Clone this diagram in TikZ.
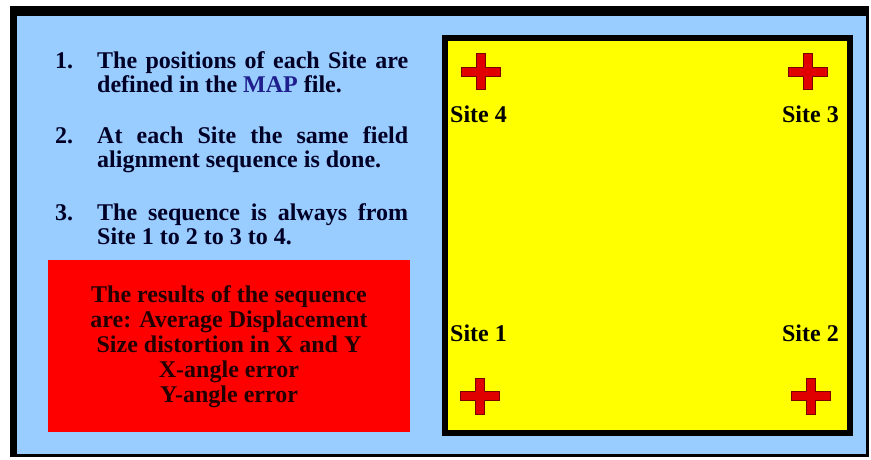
\documentclass[tikz,border=0pt]{standalone}
\usepackage{fontspec}
\setmainfont{Liberation Serif}
\usepackage{xcolor}
\usepackage{tikz}
\usetikzlibrary{positioning}

\definecolor{panelblue}{HTML}{99CCFF}
\definecolor{mapyellow}{HTML}{FFFF00}
\definecolor{resultred}{HTML}{FF0000}
\definecolor{crossred}{HTML}{E00000}
\definecolor{crossedge}{HTML}{7A0000}
\definecolor{textnavy}{HTML}{000026}
\definecolor{mapword}{HTML}{1E1E8C}
\definecolor{darktext}{HTML}{220000}

\begin{document}
\begin{tikzpicture}[
  x=1pt, y=-1pt,
  every node/.style={font=\bfseries\fontsize{24}{24}\selectfont, inner sep=0pt, text=textnavy},
  numlabel/.style={anchor=base west},
  itemtext/.style={anchor=base west, text width=311pt, align=justify},
  sitelabel/.style={text=black},
  results/.style={align=center, text=darktext, font=\bfseries\fontsize{24}{25}\selectfont},
  pics/sitecross/.style={code={
    \draw[fill=crossred, draw=crossedge, line width=1pt]
      (-4.75,-18) -- (4.75,-18) -- (4.75,-4.5) -- (19.5,-4.5) -- (19.5,4.5)
      -- (4.75,4.5) -- (4.75,18) -- (-4.75,18) -- (-4.75,4.5) -- (-19.5,4.5)
      -- (-19.5,-4.5) -- (-4.75,-4.5) -- cycle;
  }}
]
\useasboundingbox (0,0) rectangle (871,460);
\fill[white] (0,0) rectangle (871,460);

% panel and frame
\fill[black] (10,6) rectangle (869,457);
\fill[panelblue] (17,16) rectangle (866,454);

% the map with its four sites
\draw[line width=6pt, fill=mapyellow] (445,38) rectangle (850,433);
\pic at (481,72) {sitecross};
\pic at (808,72) {sitecross};
\pic at (480,396) {sitecross};
\pic at (811,396) {sitecross};
\node[sitelabel, anchor=base west] (site4) at (450,122) {Site 4};
\node[sitelabel, anchor=base east] (site3) at (839,122) {Site 3};
\node[sitelabel, anchor=base west] (site1) at (450,341) {Site 1};
\node[sitelabel, anchor=base east] (site2) at (839,341) {Site 2};

% numbered list
\node[numlabel] (num1) at (55,69) {1.};
\node[itemtext] (item1) at (97,69) {\hyphenpenalty=10000 The positions of each Site are defined in the {\color{mapword}MAP} file.};
\node[numlabel] (num2) at (55,143) {2.};
\node[itemtext] (item2) at (97,143) {\hyphenpenalty=10000 At each Site the same field alignment sequence is done.};
\node[numlabel] (num3) at (55,220) {3.};
\node[itemtext] (item3) at (97,220) {\hyphenpenalty=10000 The sequence is always from Site 1 to 2 to 3 to 4.};

% results box
\fill[resultred] (48,260) rectangle (410,432);
\node[results] (results) at (229,347) {The results of the sequence\\are: Average Displacement\\Size distortion in X and Y\\X-angle error\\Y-angle error};
\end{tikzpicture}
\end{document}
